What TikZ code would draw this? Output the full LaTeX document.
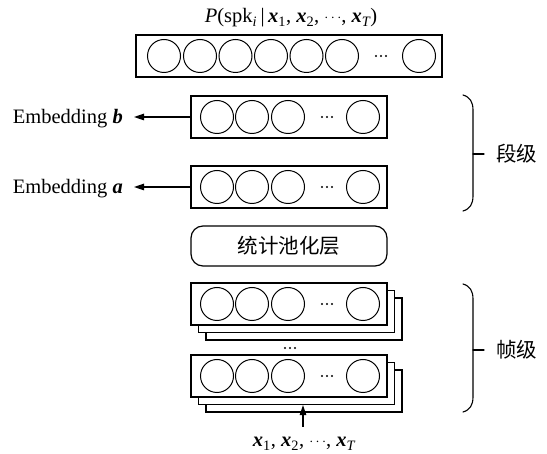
\documentclass[tikz,border=0pt]{standalone}
\usepackage{fontspec}
\setmainfont{Liberation Serif}
\newfontfamily\cjk{Noto Sans CJK SC}
\usetikzlibrary{arrows.meta}
% bold italic vector with a plain subscript
\newcommand{\bvec}[1]{{\bfseries\itshape x}\textsubscript{\mdseries\upshape #1}}
% compact centred ellipsis
\newcommand{\cdts}{\raisebox{1.2pt}{\fontsize{15}{15}\selectfont$\cdots$}}
\begin{document}
\begin{tikzpicture}[x=1pt,y=-1pt,
  lay/.style={draw, line width=1.2pt, fill=white, minimum width=196pt, minimum height=42pt, inner sep=0},
  unit/.style={circle, draw, line width=1pt, minimum size=33pt, inner sep=0},
  arr/.style={line width=1.2pt, -{Triangle[length=10pt,width=6.5pt]}},
  txt/.style={font=\fontsize{20.5}{24}\selectfont, inner sep=0},
  zh/.style={font=\cjk\fontsize{20.5}{24}\selectfont, inner sep=0},
  brace/.style={line width=1.1pt, line cap=round}
]
\useasboundingbox (0,0) rectangle (547,454);

% output layer
\node[txt] (title) at (291,18) {\textit{P}(spk\textsubscript{\itshape i}\,|\,\bvec{1}, \bvec{2}, \cdts, \bvec{\itshape T})};
\node[lay, minimum width=306pt] (out) at (289,56) {};
\foreach \x [count=\i] in {164,200,235.5,271,306.5,342,419}
  \node[unit] (o\i) at (\x,56) {};
\foreach \d in {-5,0,5} \fill (381+\d,56) circle (1.2pt);

% segment-level layers
\foreach \cy/\n in {117/b, 187/a} {
  \node[lay] (e\n) at (289,\cy) {};
  \foreach \x [count=\i] in {217,252,288,363}
    \node[unit] (e\n\i) at (\x,\cy) {};
  \foreach \d in {-5,0,5} \fill (327+\d,\cy) circle (1.2pt);
  \node[txt, anchor=base east] (l\n) at (123,\cy+7) {Embedding \textbf{\textit{\n}}};
  \draw[arr, shorten >=11pt] (e\n.west) -- (l\n.east |- e\n.west);
}

% statistics pooling
\node[lay, rounded corners=12pt, minimum height=40pt] (pool) at (289,246) {};
\node[zh] (pooltxt) at (pool.center) {统计池化层};

% frame-level layers, each a stack of three sheets
\foreach \cy/\n in {304/p, 376/q} {
  \node[lay] (f\n3) at (289+15,\cy+15) {};
  \node[lay] (f\n2) at (289+7.5,\cy+7.5) {};
  \node[lay] (f\n1) at (289,\cy) {};
  \foreach \x [count=\i] in {217,252,288,363}
    \node[unit] (f\n u\i) at (\x,\cy) {};
  \foreach \d in {-5,0,5} \fill (327+\d,\cy) circle (1.2pt);
}
\coordinate (gap) at (290,348);
\foreach \d in {-5,0,5} \fill ([xshift=\d pt]gap) circle (1.2pt);

% input sequence
\node[txt, anchor=base] (xin) at (304,447) {\bvec{1}, \bvec{2}, \cdts, \bvec{\itshape T}};
\coordinate (xtail) at (303,427);
\draw[arr] (xtail) -- (xtail |- fq2.south);

% level braces
\draw[brace] (463,95) .. controls (470,97) and (473,102) .. (473,110) -- (473,196)
  .. controls (473,204) and (470,209) .. (463,211);
\draw[brace] (473,154) -- (484,154);
\node[zh, anchor=west] (seg) at (496,154) {段级};
\draw[brace] (463,284) .. controls (470,286) and (473,291) .. (473,299) -- (473,397)
  .. controls (473,405) and (470,410) .. (463,412);
\draw[brace] (473,350) -- (484,350);
\node[zh, anchor=west] (frm) at (496,350) {帧级};
\end{tikzpicture}
\end{document}
